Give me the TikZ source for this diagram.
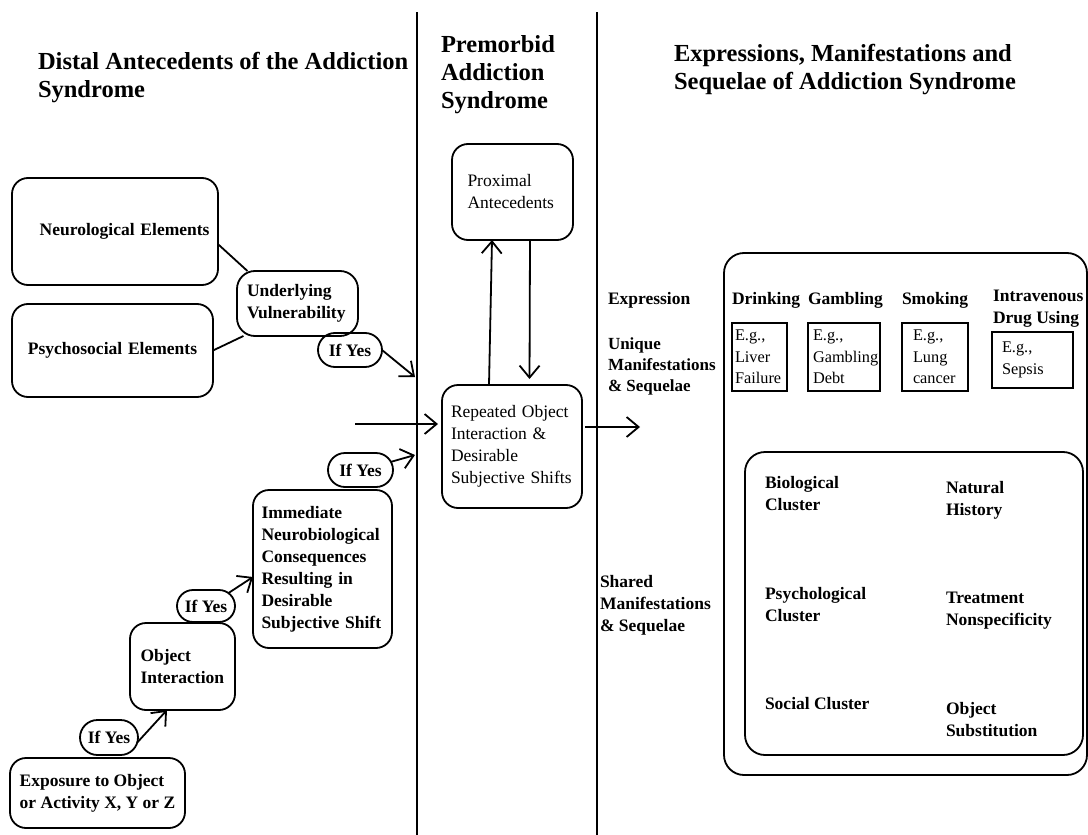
\documentclass[tikz,border=0pt]{standalone}
\usepackage{fontspec}
\setmainfont{Liberation Serif}
\usetikzlibrary{arrows.meta,shapes.misc,calc}
\newcommand\bodyb{\fontsize{17.5}{22}\selectfont\bfseries}
\newcommand\bodyr{\fontsize{17.5}{22}\selectfont}
\newcommand\egf{\fontsize{16.3}{21.5}\selectfont}
\newcommand\headf{\fontsize{24.5}{28}\selectfont\bfseries}
\begin{document}
\begin{tikzpicture}[x=1pt,y=-1pt,
  every node/.style={inner sep=0pt, outer sep=0pt},
  ln/.style={line width=1.8pt},
  rbox/.style={draw, line width=1.8pt, rounded corners=16pt, align=left, font=\bodyb},
  pill/.style={draw, rounded rectangle, line width=1.8pt, font=\bodyb},
  egbox/.style={draw, line width=1.8pt, align=left, font=\egf},
  container/.style={draw, line width=1.8pt, rounded corners=20pt},
  lab/.style={anchor=west, align=left, font=\bodyb},
  head/.style={anchor=west, align=left, font=\headf},
  arr/.style={line width=1.8pt, -{Straight Barb[length=12pt,width=20pt]}},
  conn/.style={line width=1.8pt}]
\useasboundingbox (0,0) rectangle (1088,835);
\fill[white] (0,0) rectangle (1088,835);

% dividers
\coordinate (v1t) at (417,12); \coordinate (v1b) at (417,835);
\coordinate (v2t) at (597,12); \coordinate (v2b) at (597,835);
\draw[ln] (v1t) -- (v1b);
\draw[ln] (v2t) -- (v2b);

% headings
\node[head] (h1) at (38,77.5) {Distal Antecedents of the Addiction\\Syndrome};
\node[head] (h2) at (441,75) {Premorbid\\Addiction\\Syndrome};
\node[head] (h3) at (674,70) {Expressions, Manifestations and\\Sequelae of Addiction Syndrome};

% left column
\node[rbox, minimum width=206, minimum height=107, text width=189, align=right] (neuro) at (115,231.5) {Neurological Elements};
\node[rbox, minimum width=201, minimum height=93, text width=185, align=center] (psych) at (112.5,350.5) {Psychosocial Elements};
\node[rbox, rounded corners=18pt, minimum width=121, minimum height=65, text width=101] (uv) at (297.5,303.5) {Underlying\\Vulnerability};
\draw[conn] (neuro.-7.5) -- (uv.147.5);
\draw[conn] (psych.east) -- (uv.-149);
\node[pill, minimum width=64, minimum height=34] (iy1) at (350,350) {If Yes};
\coordinate (t1) at (415,377);
\draw[arr] (iy1.east) -- (t1);

\coordinate (h0) at (355,424);
\draw[arr, shorten >=4pt] (h0) -- (h0 -| 442,0);

\node[rbox, minimum width=139, minimum height=158, text width=122] (imm) at (322.5,569) {Immediate\\Neurobiological\\Consequences\\Resulting in\\Desirable\\Subjective Shift};
\node[pill, minimum width=65, minimum height=34] (iy3) at (360.5,470) {If Yes};
\coordinate (t3) at (415,455);
\draw[arr] (iy3.15) -- (t3);

\node[rbox, minimum width=105, minimum height=87, text width=84] (obj) at (182.5,666.5) {Object\\Interaction};
\node[pill, minimum width=58, minimum height=32] (iy2) at (206,606) {If Yes};
\draw[arr] (iy2.30) -- ([yshift=-8pt]imm.west);

\node[rbox, minimum width=175, minimum height=70] (expo) at (97.5,793) {Exposure to Object\\or Activity X, Y or Z};
\node[pill, minimum width=58, minimum height=35] (iy0) at (109,737.5) {If Yes};
\draw[arr] (iy0.-10) -- ([xshift=-15.5pt]obj.south);

% middle column
\node[rbox, font=\bodyr, minimum width=121, minimum height=96, text width=90] (prox) at (512.5,192) {Proximal\\Antecedents};
\node[rbox, font=\bodyr, minimum width=140, minimum height=123, text width=122] (rep) at (512,446.5) {Repeated Object\\Interaction \&\\Desirable\\Subjective Shifts};
\draw[arr] ([xshift=-23pt]rep.north) -- ([xshift=-20.5pt]prox.south);
\draw[arr, shorten >=6pt] ([xshift=17.5pt]prox.south) -- ([xshift=17.5pt]rep.north);
\coordinate (h1e) at (640,427);
\draw[arr, shorten <=3pt] ([yshift=19.5pt]rep.east) -- (h1e);

% right column
\node[lab] (expr) at (608,300) {Expression};
\node[lab, font=\fontsize{17}{21}\selectfont\bfseries] (uniq) at (608,366) {Unique\\Manifestations\\\& Sequelae};
\node[lab] (shared) at (600,605) {Shared\\Manifestations\\\& Sequelae};

\node[container, minimum width=363, minimum height=522] (outer) at (905.5,514) {};
\node[container, minimum width=338, minimum height=303] (inner) at (914,603.5) {};

\node[lab] (drink) at (732,300) {Drinking};
\node[lab] (gamb) at (808,300) {Gambling};
\node[lab] (smok) at (902,300) {Smoking};
\node[lab] (ivd) at (993,309) {Intravenous\\Drug Using};

\node[egbox, minimum width=55, minimum height=68, text width=49] (eg1) at (759.5,357) {E.g.,\\Liver\\Failure};
\node[egbox, minimum width=72, minimum height=68, text width=62] (eg2) at (844,357) {E.g.,\\Gambling\\Debt};
\node[egbox, minimum width=66, minimum height=68, text width=44] (eg3) at (935,357) {E.g.,\\Lung\\cancer};
\node[egbox, minimum width=81, minimum height=56, text width=61] (eg4) at (1032.5,360) {E.g.,\\Sepsis};

\node[lab] (bio) at (765,494) {Biological\\Cluster};
\node[lab] (nat) at (946,500) {Natural\\History};
\node[lab] (psy) at (765,605) {Psychological\\Cluster};
\node[lab] (treat) at (946,610.5) {Treatment\\Nonspecificity};
\node[lab] (soc) at (765,704) {Social Cluster};
\node[lab] (subs) at (946,720) {Object\\Substitution};
\end{tikzpicture}
\end{document}
